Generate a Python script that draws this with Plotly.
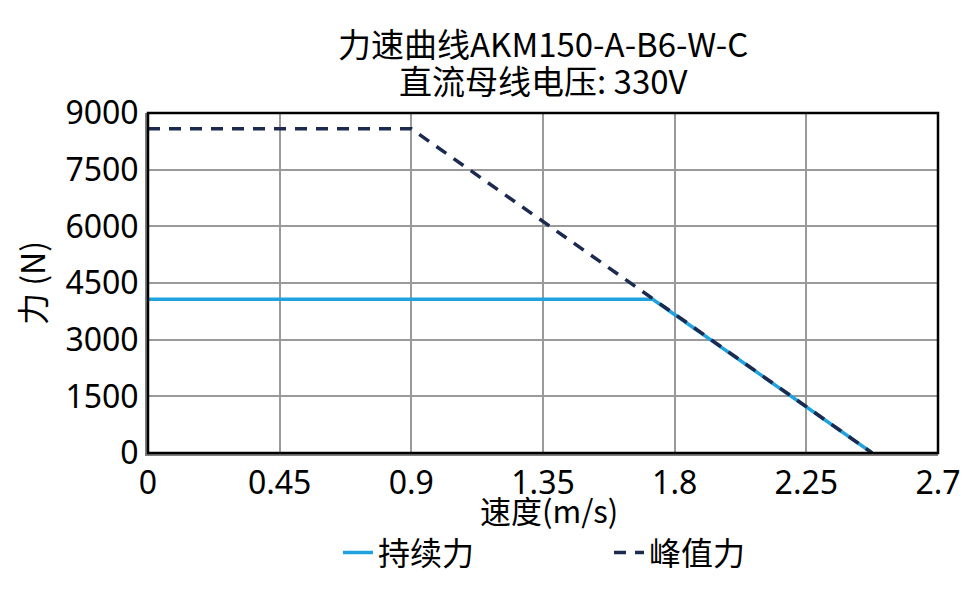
import plotly.graph_objects as go

# Data
cont_speed = [0, 1.725, 2.475]
cont_force = [4070, 4070, 0]
peak_speed = [0, 0.9, 2.475]
peak_force = [8580, 8580, 0]
x_ticks = [0, 0.45, 0.9, 1.35, 1.8, 2.25, 2.7]
x_ticklabels = ["0", "0.45", "0.9", "1.35", "1.8", "2.25", "2.7"]
y_ticks = [0, 1500, 3000, 4500, 6000, 7500, 9000]
title_lines = ["力速曲线AKM150-A-B6-W-C", "直流母线电压: 330V"]
x_title = "速度(m/s)"
y_title = "力 (N)"

FONT = "Noto Sans CJK SC"
NUMFONT = "Noto Sans"
OFF = 8  # page body margin
W, H = 971 - OFF, 592 - OFF
L, R, T, B = 148 - OFF, 33, 113 - OFF, 131
PH = H - T - B
PW = W - L - R


def py(screen_y):
    return 1 + (T - (screen_y - OFF)) / PH


fig = go.Figure()
fig.add_trace(go.Scatter(x=cont_speed, y=cont_force, mode="lines", name="持续力",
                         line=dict(color="#1fa2de", width=3.5)))
fig.add_trace(go.Scatter(x=peak_speed, y=peak_force, mode="lines", name="峰值力",
                         line=dict(color="#1b2a4e", width=3.5, dash="12px,9px")))

annotations = [
    dict(text=title_lines[0], xref="paper", yref="paper", x=0.5, y=py(41),
         xanchor="center", yanchor="middle", showarrow=False, font=dict(size=33, family=FONT)),
    dict(text=title_lines[1], xref="paper", yref="paper", x=0.5, y=py(79),
         xanchor="center", yanchor="middle", showarrow=False, font=dict(size=33, family=FONT)),
    dict(text=x_title, xref="paper", yref="paper", x=(549 - OFF - L) / PW, y=py(519),
         xanchor="center", yanchor="middle", showarrow=False, font=dict(size=31, family=FONT)),
]

fig.update_layout(
    width=W, height=H,
    margin=dict(l=L, r=R, t=T, b=B),
    paper_bgcolor="white", plot_bgcolor="white",
    font=dict(family=FONT, color="black"),
    annotations=annotations,
    showlegend=True,
    legend=dict(orientation="h", x=(338 - OFF - L) / PW, xanchor="left",
                y=py(557 - 22), yanchor="top",
                font=dict(size=32, family=FONT), entrywidth=226,
                bgcolor="rgba(0,0,0,0)"),
    xaxis=dict(range=[0, 2.7], tickvals=x_ticks, ticktext=x_ticklabels,
               showgrid=True, gridcolor="#9a9a9a", gridwidth=1.5,
               showline=True, linecolor="#808080", linewidth=3, automargin=False,
               zeroline=False, ticks="", tickfont=dict(size=32, family=NUMFONT)),
    yaxis=dict(range=[0, 9000], tickvals=y_ticks, automargin=False,
               showgrid=True, gridcolor="#9a9a9a", gridwidth=1.5,
               showline=True, linecolor="#808080", linewidth=3,
               zeroline=False, ticks="", tickfont=dict(size=32, family=NUMFONT),
               title=dict(text=y_title, font=dict(size=32, family=FONT), standoff=30)),
    shapes=[dict(type="rect", xref="x domain", yref="y domain", x0=0, x1=1, y0=0, y1=1,
                 line=dict(color="black", width=2.5), layer="above")],
)

fig.write_html("out.html")
